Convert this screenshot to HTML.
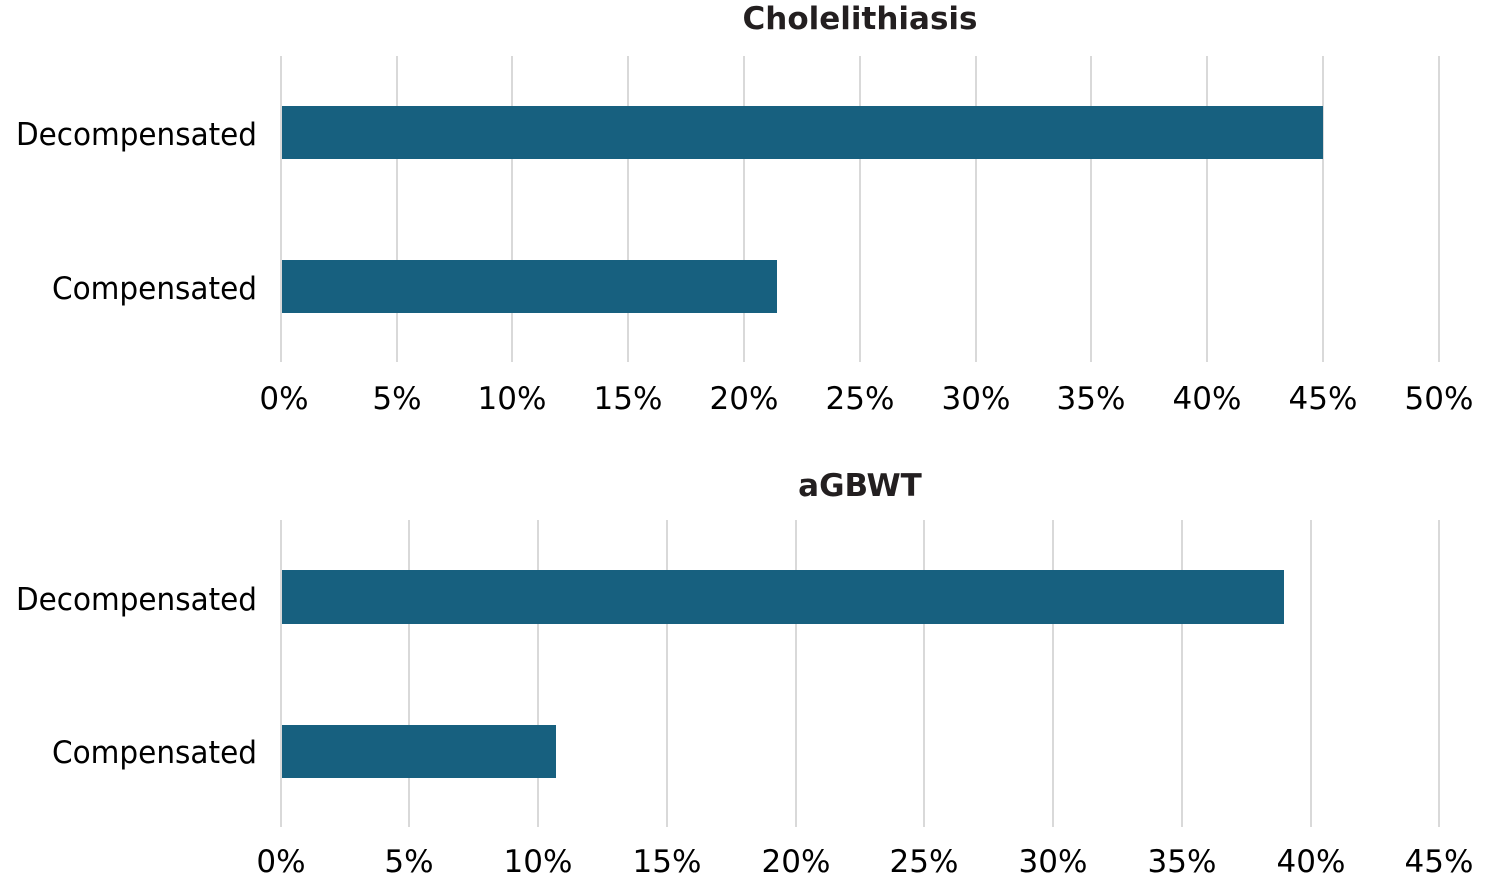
<!DOCTYPE html>
<html><head><style>
body{margin:0;background:#fff;}
svg text{font-family:"DejaVu Sans","Liberation Sans",sans-serif;fill:#000;}
</style></head><body>
<svg width="1488" height="884" xmlns="http://www.w3.org/2000/svg">
<g stroke="#d9d9d9" stroke-width="2">
<line x1="281" y1="56" x2="281" y2="362"/><line x1="397" y1="56" x2="397" y2="362"/><line x1="512" y1="56" x2="512" y2="362"/><line x1="628" y1="56" x2="628" y2="362"/><line x1="744" y1="56" x2="744" y2="362"/><line x1="860" y1="56" x2="860" y2="362"/><line x1="976" y1="56" x2="976" y2="362"/><line x1="1091" y1="56" x2="1091" y2="362"/><line x1="1207" y1="56" x2="1207" y2="362"/><line x1="1323" y1="56" x2="1323" y2="362"/><line x1="1439" y1="56" x2="1439" y2="362"/>
<line x1="281" y1="520" x2="281" y2="827"/><line x1="409" y1="520" x2="409" y2="827"/><line x1="538" y1="520" x2="538" y2="827"/><line x1="667" y1="520" x2="667" y2="827"/><line x1="796" y1="520" x2="796" y2="827"/><line x1="924" y1="520" x2="924" y2="827"/><line x1="1053" y1="520" x2="1053" y2="827"/><line x1="1182" y1="520" x2="1182" y2="827"/><line x1="1311" y1="520" x2="1311" y2="827"/><line x1="1439" y1="520" x2="1439" y2="827"/>
</g>
<g fill="#17607f">
<rect x="282" y="106" width="1041" height="53"/>
<rect x="282" y="260" width="495" height="53"/>
<rect x="282" y="570" width="1002" height="54"/>
<rect x="282" y="725" width="274" height="53"/>
</g>
<text x="860" y="29" text-anchor="middle" font-size="31" font-weight="bold" style="fill:#231f20">Cholelithiasis</text>
<text x="860" y="496" text-anchor="middle" font-size="31" font-weight="bold" style="fill:#231f20">aGBWT</text>
<g font-size="31">
<text x="16" y="145" textLength="241" lengthAdjust="spacingAndGlyphs">Decompensated</text>
<text x="52" y="299" textLength="205" lengthAdjust="spacingAndGlyphs">Compensated</text>
<text x="16" y="610" textLength="241" lengthAdjust="spacingAndGlyphs">Decompensated</text>
<text x="52" y="763" textLength="205" lengthAdjust="spacingAndGlyphs">Compensated</text>
</g>
<g font-size="31" text-anchor="middle">
<text x="284" y="409">0%</text><text x="397" y="409">5%</text><text x="512" y="409">10%</text><text x="628" y="409">15%</text><text x="744" y="409">20%</text><text x="860" y="409">25%</text><text x="976" y="409">30%</text><text x="1091" y="409">35%</text><text x="1207" y="409">40%</text><text x="1323" y="409">45%</text><text x="1439" y="409">50%</text>
<text x="281" y="872">0%</text><text x="409" y="872">5%</text><text x="538" y="872">10%</text><text x="667" y="872">15%</text><text x="796" y="872">20%</text><text x="924" y="872">25%</text><text x="1053" y="872">30%</text><text x="1182" y="872">35%</text><text x="1311" y="872">40%</text><text x="1439" y="872">45%</text>
</g>
</svg>
</body></html>
